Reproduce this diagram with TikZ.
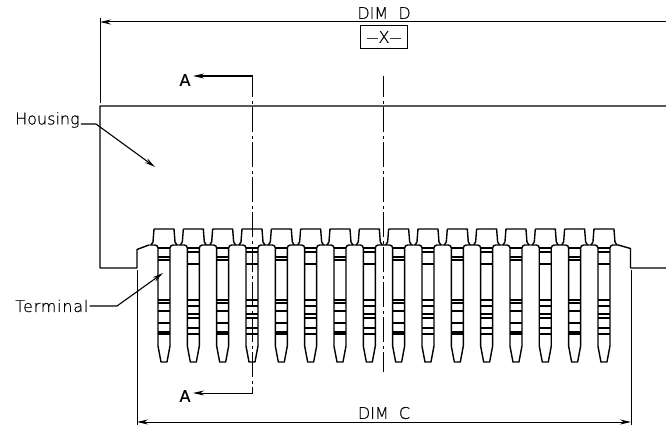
\documentclass[tikz,border=0pt]{standalone}
\usepackage{fontspec}
\setmainfont{DejaVu Sans ExtraLight}[FakeBold=0.5]
\newfontfamily\cutfont{DejaVu Sans}[FakeBold=0.5]
\newcommand{\datumdash}{{\fontsize{12}{12}\selectfont\raisebox{1pt}{—}}}
\usetikzlibrary{arrows.meta,positioning}
\tikzset{
	outline/.style={line width=1.4pt,line join=round},
	thinline/.style={line width=1.1pt},
	dimline/.style={line width=1pt},
	centerline/.style={line width=1.1pt,dash pattern=on 25pt off 4pt on 3pt off 3pt,dash phase=4pt},
	tip/.style={-{Stealth[length=11pt,width=5pt]}},
	label/.style={inner sep=1pt,font=\fontsize{16}{16}\selectfont},
	cutlabel/.style={inner sep=1pt,font=\cutfont\fontsize{16}{16}\selectfont},
}
\begin{document}
\begin{tikzpicture}[x=1pt,y=-1pt]
		\useasboundingbox (0,0) rectangle (666,425);
		% housing
		\draw[outline]
			(666,106) -- (100,106) -- (100,268) -- (137,268) -- (137,249.5) -- (148.8,245);
		\draw[outline]
			(618.2,245) -- (630.5,248.5) -- (630.5,268) -- (666,268);
		% terminals
		\foreach \n in {0,...,15}{
			\begin{scope}[shift={(164+29.33*\n,0)}]
				\draw[outline]
					(-10,229) -- (10,229) -- (11,242) -- (13,245)
					(-10,229) -- (-11,242) -- (-13,245);
				\draw[outline]
					(-14.67,245) -- (-9,245) to[out=0,in=90] (-6,248) -- (-6,346) -- (-3,362)
					-- (3,362) -- (6,346) -- (6,248) to[out=90,in=180] (9,245) -- (14.67,245);
				\draw[thinline] (-6,248) -- (6,248) (-6,300) -- (6,300) (-6,334) -- (6,334);
			\end{scope}
		}
		\foreach \n in {0,2,...,14}{
			\foreach \y in {257,260,303,311,323,332}{
				\draw[thinline] (158+29.33*\n,\y) -- ++(12,0);
			}
		}
		\foreach \n in {1,3,...,15}{
			\foreach \y in {252,264,306,314,318,328}{
				\draw[thinline] (158+29.33*\n,\y) -- ++(12,0);
			}
		}
		% center and section lines
		\draw[centerline] (383.5,76) -- (383.5,372);
		\node[cutlabel] (atop) at (185,80) {A};
		\node[cutlabel] (abot) at (185,396) {A};
		\coordinate (cuttop) at (252.5,76);
		\coordinate (cutbot) at (252.5,393);
		\draw[centerline] (cuttop) -- (cutbot);
		\draw[dimline,tip,line width=1.4pt] (cuttop) -- (193,76);
		\draw[dimline,tip] (cutbot) -- (193,393);
		% dimensions
		\coordinate (dleft) at (100,22);
		\coordinate (cleft) at (137,422);
		\coordinate (cright) at (631,422);
		\draw[dimline] (100,18) -- (100,103);
		\draw[dimline,tip] (666,22) -- (dleft);
		\node[label] (dimd) at (384,13) {DIM\ \ D};
		\node[draw,line width=1.4pt,minimum width=47pt,minimum height=23pt,inner sep=0pt,label] (datum) at (384,37) {\datumdash X\datumdash};
		\draw[dimline] (137,270) -- (137,425) (631,270) -- (631,425);
		\draw[dimline,{Stealth[length=11pt,width=5pt]}-{Stealth[length=11pt,width=5pt]}] (cleft) -- (cright);
		\node[label] (dimc) at (384,413) {DIM\ \ C};
		% leaders
		\node[label,anchor=west] (housing) at (14,120) {Housing};
		\node[label,anchor=west] (terminal) at (14,306) {\addfontfeature{LetterSpace=5}Terminal};
		\coordinate (hbend) at (96,124);
		\coordinate (tbend) at (117,306);
		\draw[thinline,tip] (housing.east) ++(0,4) -- (hbend) -- (155,167);
		\draw[thinline,tip] (terminal.east) -- (tbend) -- (163,273);
\end{tikzpicture}
\end{document}
